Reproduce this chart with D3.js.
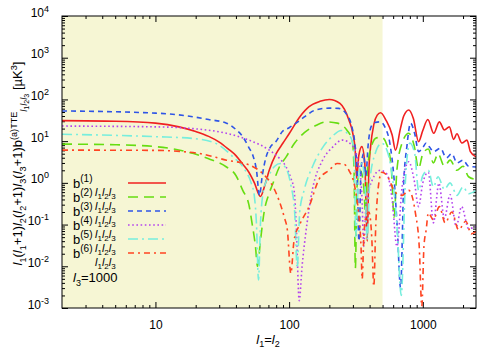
<!DOCTYPE html>
<html>
<head>
<meta charset="utf-8">
<script src="https://cdn.jsdelivr.net/npm/d3@7"></script>
<style>
  body { margin: 0; background: #fff; }
  svg { font-family: "Liberation Sans", Arial, Helvetica, sans-serif; }
</style>
</head>
<body>
<svg id="chart" width="500" height="350"></svg>
<script>
// l1 = l2 values and |b| values, one pair of arrays per curve
var b1L = [2,5,10,15,20,25,30,35,40,45,50,55,61,66,71,80,90,100,120,141,170,200,240,280,300,312,320,332,350,368,384,395,407,430,456,483,530,590,625,680,720,785,850,930,1000,1090,1208,1330,1450,1580,1700,1800,1960,2140,2270,2500];
var b1V = [31,30,27,22,17,13,9.5,6.5,4.5,2.8,1.8,1.0,0.47,0.9,2.0,5,9,15,38,67,90,100,80,32,15,6,1.3,4.5,7.4,3,0.04,2,7.4,25,42,48,32,14,6.1,20,40,56,35,9.7,18,33,15.4,29,18.5,22,11,15,9,10.6,5.6,4.2];

var b2L = [2,5,10,19,25,34,40,45,50,53,56,58,61,65,70,75,85,95,110,130,160,190,230,270,297,306,313,322,340,362,372,385,410,450,493,540,580,610,640,700,785,860,930,1000,1100,1200,1300,1450,1600,1800,2000,2200,2500];
var b2V = [8.5,8.2,7.4,5.1,3.8,2.4,1.5,0.66,0.3,0.1,0.03,0.01,0.04,0.2,0.5,0.9,2.5,4.2,9,16,24,29,27,18.5,10,2,0.009,0.8,2,0.8,0.2,2,7,12,12.3,8,2.5,0.15,2,9,15.4,8,2.2,5,6.5,3,5,2.5,3.5,2,2.5,1.4,1.2];

var b3L = [2,10,19,25,34,40,45,50,54,57,60,63,67,72,80,89,100,112,130,158,200,235,272,295,310,322,333,345,360,375,390,410,440,480,520,570,610,645,682,720,760,810,870,930,1000,1060,1130,1200,1355,1500,1650,1800,2000,2200,2500];
var b3V = [53,47,38.5,33,27,19,12.8,7,4.2,2,0.5,1.5,4,7,10,17,21,26.7,38,56,62,61,42,22,9,2,0.04,2,5,1.5,8,22,28,29,22,8,1.2,0.075,0.003,1,7.4,27,15,5.6,7,9,7,5.6,6.7,4,5,3,3.5,2.5,2.4];

var b4L = [2,10,19,34,50,71,85,95,103,109,113,119,125,133,149,178,210,250,295,330,350,362,375,420,480,540,590,640,700,785,860,930,1000,1100,1200,1320,1450,1600,1780,1950,2200,2500];
var b4V = [23,22,20,15.4,10.6,6.1,3.8,2.4,1.3,0.66,0.1,0.0015,0.01,0.06,0.66,3.5,7,10.6,8,3,0.5,0.03,0.25,1.2,2,1.6,0.4,0.03,0.8,3.2,1.2,0.27,1,1.8,0.11,0.98,0.14,0.52,0.09,0.27,0.08,0.09];

var b5L = [2,10,19,28,38,47,52,55,57,59,61,64,70,78,86,95,103,110,115,120,130,150,180,210,245,275,297,308,315,330,350,370,384,400,440,493,540,590,640,690,740,800,870,930,1000,1100,1200,1300,1450,1600,1800,2000,2200,2500];
var b5V = [14.6,12.8,11.6,9,4.2,2,1.0,0.47,0.1,0.0047,0.1,0.6,1.4,2.5,2.9,2.2,0.9,0.2,0.009,0.2,0.7,2.5,7.4,13,18,15,10,3,0.05,1.2,3,0.8,0.043,1,5,8.9,6,1.5,0.1,0.002,1,9,5,0.66,1.5,2,0.8,1.4,0.7,1.0,0.5,0.8,0.55,0.66];

var b6L = [2,10,21,34,50,67,76,84,92,97,103,109,120,141,167,199,229,257,280,310,330,345,352,362,375,395,415,430,445,465,493,540,620,700,785,880,940,983,1020,1060,1100,1200,1330,1470,1650,1850,2100,2300,2500];
var b6V = [6.1,6.0,5.1,3.5,2.7,1.4,0.8,0.38,0.15,0.074,0.0068,0.043,0.1,0.27,1.2,2.0,2.9,2.8,2.0,0.8,0.2,0.03,0.005,0.05,0.15,0.2,0.05,0.0033,0.1,0.8,1.8,1.5,0.6,0.5,0.66,0.19,0.03,0.0011,0.03,0.075,0.19,0.13,0.27,0.11,0.2,0.075,0.12,0.06,0.068];

var legendIdx = ["1","2","3","4","5","6"];
var xTicks = [10, 100, 1000];
var yTicks = [-3, -2, -1, 0, 1, 2, 3, 4];   // exponents
var shadeEnd = 500;
var l3 = "1000";

var series = [
  {L: b1L, V: b1V, color: "#f02020", dash: null},
  {L: b2L, V: b2V, color: "#66dd11", dash: "10,6"},
  {L: b3L, V: b3V, color: "#2f55e6", dash: "5,4"},
  {L: b4L, V: b4V, color: "#b444ee", dash: "1.6,2.6"},
  {L: b5L, V: b5V, color: "#77eedd", dash: "10,4,2,4"},
  {L: b6L, V: b6V, color: "#ff4422", dash: "6,4,2,4"}
];

var margin = {top: 16, right: 24, bottom: 42, left: 62},
    width = 500 - margin.left - margin.right,
    height = 350 - margin.top - margin.bottom;

var x = d3.scaleLog().domain([2, 2500]).range([0, width]);
var y = d3.scaleLog().domain([1e-3, 1e4]).range([height, 0]);

var svg = d3.select("#chart")
  .append("g")
    .attr("transform", "translate(" + margin.left + "," + margin.top + ")");

svg.append("defs").append("clipPath").attr("id", "clip")
  .append("rect").attr("width", width).attr("height", height);

// non-closed triangle region
svg.append("rect")
  .attr("x", 0).attr("y", 0)
  .attr("width", x(shadeEnd)).attr("height", height)
  .style("fill", "#f6f6d4");

// minor tick values
var xMinor = [], yMinor = [];
for (var e = 0; e <= 3; e++) for (var m = 2; m <= 9; m++) {
  var v = m * Math.pow(10, e);
  if (v > 2 && v < 2500) xMinor.push(v);
}
for (var e2 = -3; e2 < 4; e2++) for (var m2 = 2; m2 <= 9; m2++) yMinor.push(m2 * Math.pow(10, e2));

function axisStyle(g) {
  g.select(".domain").remove();
  g.selectAll("line").style("stroke", "#000");
}

// writes rich text: pieces of [text, baseline offset px, size px, italic]
function rich(sel, pieces) {
  var cur = 0;
  pieces.forEach(function(p) {
    sel.append("tspan")
      .attr("dy", (p[1] - cur) + "px")
      .style("font-size", p[2] + "px")
      .style("font-style", p[3] ? "italic" : null)
      .text(p[0]);
    cur = p[1];
  });
}

// major + minor ticks, mirrored on all four sides
svg.append("g").attr("transform", "translate(0," + height + ")")
  .call(d3.axisBottom(x).tickValues(xMinor).tickSize(-3).tickFormat(""))
  .call(axisStyle);
svg.append("g")
  .call(d3.axisTop(x).tickValues(xMinor).tickSize(-3).tickFormat(""))
  .call(axisStyle);
svg.append("g")
  .call(d3.axisTop(x).tickValues(xTicks).tickSize(-6).tickFormat(""))
  .call(axisStyle);
var xAxis = svg.append("g").attr("transform", "translate(0," + height + ")")
  .call(d3.axisBottom(x).tickValues(xTicks).tickSize(-6).tickPadding(12).tickFormat(d3.format("d")))
  .call(axisStyle);
xAxis.selectAll("text").style("font-size", "12px").style("fill", "#000")
  .attr("font-family", "Liberation Sans, Arial, sans-serif");

svg.append("g")
  .call(d3.axisLeft(y).tickValues(yMinor).tickSize(-3).tickFormat(""))
  .call(axisStyle);
svg.append("g").attr("transform", "translate(" + width + ",0)")
  .call(d3.axisRight(y).tickValues(yMinor).tickSize(-3).tickFormat(""))
  .call(axisStyle);
svg.append("g").attr("transform", "translate(" + width + ",0)")
  .call(d3.axisRight(y).tickValues(yTicks.map(function(p) { return Math.pow(10, p); })).tickSize(-6).tickFormat(""))
  .call(axisStyle);
var yAxis = svg.append("g")
  .call(d3.axisLeft(y).tickValues(yTicks.map(function(p) { return Math.pow(10, p); })).tickSize(-6).tickPadding(13).tickFormat(""))
  .call(axisStyle);
yAxis.selectAll(".tick text")
  .style("fill", "#000")
  .attr("font-family", "Liberation Sans, Arial, sans-serif")
  .attr("dy", "6px")
  .each(function(d) {
    rich(d3.select(this), [["10", 0, 12], [String(Math.round(Math.log10(d))), -5, 9]]);
  });

// curves
var line = d3.line()
  .x(function(d) { return x(d[0]); })
  .y(function(d) { return y(d[1]); })
  .curve(d3.curveMonotoneX);

var curves = svg.append("g").attr("clip-path", "url(#clip)");
series.forEach(function(s) {
  var pts = s.L.map(function(l, i) { return [l, s.V[i]]; });
  curves.append("path")
    .datum(pts)
    .attr("d", line)
    .style("fill", "none")
    .style("stroke", s.color)
    .style("stroke-width", 1.6)
    .style("stroke-dasharray", s.dash);
});

// frame
svg.append("rect")
  .attr("width", width).attr("height", height)
  .style("fill", "none").style("stroke", "#000").style("stroke-width", 1);

// legend
var leg = svg.append("g");
function lll(size, sub, shift) {
  var out = [];
  ["1", "2", "3"].forEach(function(k) {
    out.push(["l", 0, size, true]);
    out.push([k, shift, sub]);
  });
  return out;
}
series.forEach(function(s, i) {
  var base = 172 + i * 14;
  rich(leg.append("text").attr("x", 11).attr("y", base),
    [["b", 0, 13], ["(" + legendIdx[i] + ")", -6, 10]]);
  rich(leg.append("text").attr("x", 33).attr("y", base + 8), lll(11, 8, 2.5));
  leg.append("line")
    .attr("x1", 66).attr("x2", 104)
    .attr("y1", base - 5).attr("y2", base - 5)
    .style("stroke", s.color).style("stroke-width", 1.6)
    .style("stroke-dasharray", s.dash);
});
rich(leg.append("text").attr("x", 11).attr("y", 266),
  [["l", 0, 13, true], ["3", 4, 9], ["=" + l3, 0, 13]]);

// x label
rich(svg.append("text")
  .attr("x", width / 2 - 1).attr("y", height + 36)
  .attr("text-anchor", "middle"),
  [["l", 0, 13, true], ["1", 3, 9], ["=", 0, 13], ["l", 0, 13, true], ["2", 3, 9]]);

// y label
function yPieces(fs) {
  var s = fs * 0.7, d = fs * 0.3, p = [];
  ["1", "2", "3"].forEach(function(k) {
    p.push(["l", 0, fs, true], [k, d, s], ["(", 0, fs], ["l", 0, fs, true], [k, d, s], ["+1)", 0, fs]);
  });
  p.push(["b", 0, fs], ["(a)TTE", -fs * 0.4, s]);
  ["1", "2", "3"].forEach(function(k) {
    p.push(["l", fs * 0.35, s, true], [k, fs * 0.55, fs * 0.55]);
  });
  p.push([" [\u00b5K", 0, fs], ["3", -fs * 0.4, s], ["]", 0, fs]);
  return p;
}
var yl = svg.append("text")
  .attr("transform", "translate(-40," + (height / 2 + 1.5) + ") rotate(-90)")
  .attr("text-anchor", "middle");
rich(yl, yPieces(13));
</script>
</body>
</html>
